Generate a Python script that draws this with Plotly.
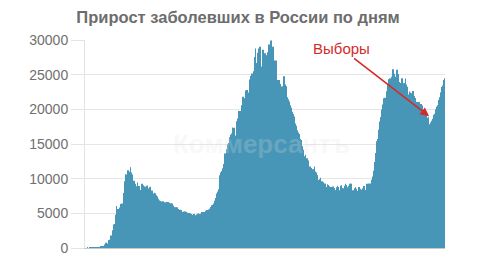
import pandas as pd
import plotly.graph_objects as go

title_text = "Прирост заболевших в России по дням"
watermark_text = "Коммерсантъ"
event_label = "Выборы"
event_date = "2021-09-05"
event_value = 19000

y_tick_values = [0, 5000, 10000, 15000, 20000, 25000, 30000]
y_tick_labels = ["0", "5000", "10000", "15000", "20000", "25000", "30000"]

# daily new cases, one list per month (first day of month given)
m2020_03 = [0, 0, 1, 0, 0, 0, 3, 0, 0, 3, 8, 6, 17, 14, 4, 27, 21, 33, 52, 54, 53, 71, 57, 66, 163, 182, 196, 228, 270, 302, 501]
m2020_04 = [440, 771, 601, 582, 658, 954, 1154, 1175, 1459, 1786, 1667, 2186, 2558, 2774, 3388, 3448, 4070, 4785, 6060, 4268, 5642, 5236, 4774, 5849, 5966, 6361, 6198, 6411, 5841, 7099]
m2020_05 = [7933, 9623, 10633, 10581, 10102, 10559, 11231, 10699, 10817, 11012, 11656, 10899, 10028, 9974, 10598, 9200, 9709, 8926, 9263, 8764, 8849, 8894, 9434, 8599, 8946, 8915, 8338, 8371, 8952, 9268, 9035]
m2020_06 = [9035, 8863, 8536, 8831, 8726, 8855, 8984, 8985, 8595, 8404, 8779, 8706, 8835, 8248, 8246, 8248, 7843, 7790, 7972, 7889, 7728, 7600, 7425, 7176, 7113, 6800, 6852, 6791, 6719, 6693]
m2020_07 = [6556, 6760, 6632, 6736, 6611, 6368, 6562, 6509, 6635, 6632, 6611, 6615, 6537, 6248, 6422, 6428, 6406, 6234, 6109, 6104, 5842, 5862, 5848, 5811, 5871, 5765, 5635, 5395, 5475, 5509, 5482]
m2020_08 = [5462, 5427, 5159, 5204, 5241, 5212, 5267, 5241, 5189, 5118, 5102, 5057, 5065, 5061, 4945, 4969, 4892, 4748, 4790, 4767, 4870, 4921, 4852, 4696, 4676, 4829, 4711, 4941, 4980, 4897, 4729]
m2020_09 = [4729, 4952, 5110, 5185, 5205, 5195, 5099, 5185, 5218, 5363, 5405, 5449, 5488, 5509, 5529, 5670, 5762, 5905, 6065, 6148, 6196, 6215, 6431, 6595, 6800, 7212, 7523, 7867, 8135, 8232]
m2020_10 = [8481, 9412, 10499, 10888, 10499, 11115, 11493, 11615, 12126, 12846, 13634, 13592, 13868, 14231, 13754, 14922, 15150, 15700, 15982, 16319, 15971, 16521, 17340, 17347, 16550, 17347, 16202, 16183, 17717, 18283, 18140]
m2020_11 = [18665, 19768, 18257, 19404, 19768, 20582, 20498, 20396, 21798, 20977, 19851, 21608, 21983, 22702, 22778, 22410, 20985, 22431, 23610, 24318, 24581, 24822, 25173, 24326, 23675, 25487, 27543, 27100, 28782, 26683]
m2020_12 = [26402, 25345, 28145, 28585, 28782, 29039, 28142, 26097, 26190, 27927, 28585, 28137, 27328, 28080, 26689, 26431, 27787, 28214, 28209, 28948, 29350, 28552, 27651, 29935, 29258, 28284, 29018, 27787, 26513, 27039, 26513]
m2021_01 = [27029, 26301, 24246, 23351, 22851, 24217, 23541, 23652, 22851, 23309, 22934, 23315, 23652, 24763, 24092, 23586, 23142, 23330, 21734, 21452, 21327, 21121, 20913, 20590, 20246, 19741, 19541, 19638, 19331, 18959, 18832]
m2021_02 = [17948, 17643, 17214, 16988, 16627, 16643, 16448, 15916, 15734, 15566, 15038, 14626, 14680, 14185, 13233, 12828, 12953, 13447, 12828, 12953, 12742, 12604, 11534, 11198, 11749, 11571, 11534, 11359]
m2021_03 = [11024, 10565, 11385, 11753, 10595, 11022, 10880, 10513, 9393, 9803, 9445, 9838, 9908, 10118, 9572, 9637, 9299, 9451, 9445, 9195, 9299, 9215, 8769, 8792, 9195, 9073, 9088, 8910, 8277, 8328, 8806]
m2021_04 = [8806, 8672, 8885, 8702, 8646, 8328, 8271, 8294, 8744, 8987, 8810, 8589, 8173, 8326, 8807, 8995, 9040, 8671, 8632, 8053, 8164, 8995, 9270, 9073, 8632, 8780, 8114, 8731, 8966, 9270]
m2021_05 = [9270, 9270, 8419, 7770, 8329, 8052, 8217, 8618, 8790, 8557, 7738, 7884, 8217, 8443, 8790, 8554, 8554, 8329, 8399, 8217, 8632, 8947, 8951, 8867, 8373, 8380, 8947, 9252, 8951, 9289, 8867]
m2021_06 = [9022, 9289, 9145, 9633, 9845, 10327, 10694, 11145, 11600, 12407, 13699, 14901, 15397, 15721, 16885, 17057, 17723, 18262, 18906, 19611, 19978, 20715, 21594, 21182, 21393, 21665, 21650, 22538, 22616, 23042]
m2021_07 = [23543, 24353, 24439, 24439, 23378, 23904, 24702, 24818, 25766, 25116, 24072, 23827, 24702, 25293, 25704, 25117, 25082, 24702, 23947, 23811, 23704, 23811, 24471, 24072, 23770, 22935, 22420, 23811, 24461, 23564, 23270]
m2021_08 = [22589, 21932, 22143, 22589, 22420, 22277, 22277, 22277, 21378, 22660, 22277, 21932, 21571, 21624, 21058, 20867, 21058, 20992, 20992, 21058, 20564, 20765, 19916, 20765, 20564, 19630, 19509, 18780, 19509, 18836, 18780]
m2021_09 = [19285, 18536, 18780, 18856, 17856, 17622, 18104, 18041, 17780, 18341, 18645, 18736, 19172, 19380, 19641, 19994, 20174, 20359, 20594, 21159, 21329, 21759, 22379, 22438, 22908, 23236, 23430, 23961, 24236, 24488]

months = [
    ("2020-03-01", m2020_03), ("2020-04-01", m2020_04), ("2020-05-01", m2020_05),
    ("2020-06-01", m2020_06), ("2020-07-01", m2020_07), ("2020-08-01", m2020_08),
    ("2020-09-01", m2020_09), ("2020-10-01", m2020_10), ("2020-11-01", m2020_11),
    ("2020-12-01", m2020_12), ("2021-01-01", m2021_01), ("2021-02-01", m2021_02),
    ("2021-03-01", m2021_03), ("2021-04-01", m2021_04), ("2021-05-01", m2021_05),
    ("2021-06-01", m2021_06), ("2021-07-01", m2021_07), ("2021-08-01", m2021_08),
    ("2021-09-01", m2021_09),
]

dates = []
values = []
for start, vals in months:
    dates.extend(pd.date_range(start, periods=len(vals), freq="D"))
    values.extend(vals)

fig = go.Figure()
fig.add_trace(go.Bar(
    x=dates, y=values,
    marker=dict(color="#4896b7", line=dict(width=0)),
    hoverinfo="skip",
))

fig.update_layout(
    width=480, height=266,
    margin=dict(l=85, r=35, t=40, b=10),
    paper_bgcolor="white", plot_bgcolor="white",
    bargap=0.2,
    showlegend=False,
    font=dict(family="Liberation Sans, Arial, sans-serif", color="#6f6f6f"),
    title=dict(
        text="<b>" + title_text + "</b>",
        x=0.496, xanchor="center", y=0.935, yanchor="middle",
        font=dict(size=16.5, color="#6d6d6d"),
    ),
)

fig.update_xaxes(
    type="date",
    range=["2020-02-28", "2021-09-30 14:00"],
    showticklabels=False, ticks="",
    showgrid=False, zeroline=False,
    showline=True, linecolor="#c8c8c8", linewidth=1,
)
fig.update_yaxes(
    range=[0, 30000],
    tickvals=y_tick_values, ticktext=y_tick_labels,
    ticks="outside", ticklen=13, tickcolor="#e3e3e3", tickwidth=1,
    tickfont=dict(size=14, color="#707070"),
    showgrid=True, gridcolor="#e6e6e6", gridwidth=1,
    zeroline=False,
    showline=True, linecolor="#e3e3e3", linewidth=1,
)

fig.add_annotation(
    text="<b>" + watermark_text + "</b>",
    xref="paper", yref="paper", x=0.49, y=0.5,
    showarrow=False,
    font=dict(size=26, color="rgba(225,225,225,0.22)"),
)

fig.add_annotation(
    x=event_date, y=event_value, xref="x", yref="y",
    text=event_label,
    showarrow=True, arrowhead=2, arrowsize=1.1, arrowwidth=1.6,
    arrowcolor="#d42a2a",
    ax=-88, ay=-68,
    font=dict(size=15, color="#d42a2a"),
)

fig.write_html("out.html")
